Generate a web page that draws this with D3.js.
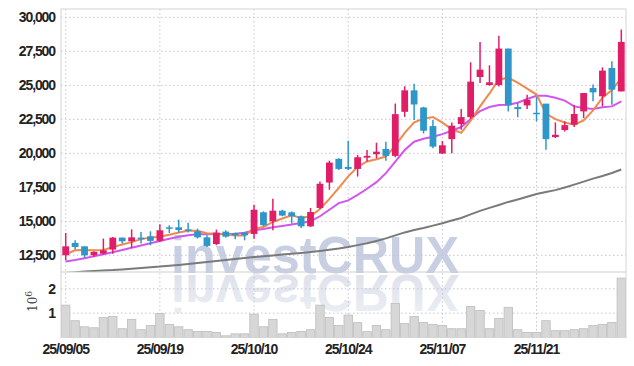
<!DOCTYPE html>
<html>
<head>
<meta charset="utf-8">
<script src="https://cdn.jsdelivr.net/npm/d3@7"></script>
<style>
    html, body { margin: 0; padding: 0; background: #fff; }
    svg { display: block; font-family: "Liberation Sans", Arial, sans-serif; }
</style>
</head>
<body>
<div id="chart"></div>
<script>
// trading days (yy/mm/dd)
const dates = [
    "25/09/05", "25/09/08", "25/09/09", "25/09/10", "25/09/11", "25/09/12", "25/09/15", "25/09/16", "25/09/17", "25/09/18",
    "25/09/19", "25/09/22", "25/09/23", "25/09/24", "25/09/25", "25/09/26", "25/09/29", "25/09/30", "25/10/01", "25/10/02",
    "25/10/10", "25/10/13", "25/10/14", "25/10/15", "25/10/16", "25/10/17", "25/10/20", "25/10/21", "25/10/22", "25/10/23",
    "25/10/24", "25/10/27", "25/10/28", "25/10/29", "25/10/30", "25/10/31", "25/11/03", "25/11/04", "25/11/05", "25/11/06",
    "25/11/07", "25/11/10", "25/11/11", "25/11/12", "25/11/13", "25/11/14", "25/11/17", "25/11/18", "25/11/19", "25/11/20",
    "25/11/21", "25/11/24", "25/11/25", "25/11/26", "25/11/27", "25/11/28", "25/12/01", "25/12/02", "25/12/03", "25/12/04"
];

const openPrice = [
    12500, 13410, 13160, 12500, 12620, 12920, 13800, 13530, 13800, 13900,
    13560, 14560, 14560, 14410, 14270, 13820, 13330, 14240, 14140, 14170,
    14070, 15660, 15000, 15780, 15660, 15370, 14630, 15980, 17850, 19590,
    19000, 18850, 19680, 19930, 20320, 19810, 23050, 24630, 23370, 22000,
    19980, 21040, 22150, 22660, 25610, 25020, 25020, 27700, 23400, 23520,
    22980, 23650, 21190, 21710, 22100, 23080, 24800, 24190, 26270, 24550
];
const highPrice = [
    14140, 13600, 13160, 12790, 13730, 13850, 13800, 14410, 14220, 14270,
    14780, 14710, 15120, 14900, 14460, 13970, 14390, 14340, 14170, 14220,
    16220, 15730, 16660, 15850, 15730, 15420, 15980, 17930, 19460, 19630,
    20930, 19880, 20240, 20780, 20850, 23660, 24930, 25120, 23420, 22440,
    20900, 22270, 23250, 26690, 28190, 26470, 28650, 27700, 23700, 24310,
    24140, 23650, 22270, 22350, 23550, 24430, 25050, 26320, 26760, 29100
];
const lowPrice = [
    12130, 12920, 12330, 12380, 12550, 12620, 13360, 13040, 13360, 13240,
    13480, 14140, 14170, 14170, 13730, 13110, 13240, 13800, 13680, 13600,
    13710, 14630, 14340, 15370, 14830, 14510, 14590, 15900, 17320, 18780,
    18780, 18290, 19390, 19630, 19460, 19710, 22680, 22440, 21460, 20370,
    19950, 20010, 21730, 22520, 25170, 24970, 24920, 23080, 22660, 23250,
    22350, 20260, 21120, 21610, 21930, 22590, 23820, 23450, 23570, 24550
];
const closePrice = [
    13160, 13110, 12500, 12750, 12870, 13800, 13530, 13820, 13680, 13560,
    14340, 14490, 14360, 14310, 13820, 13190, 14170, 13870, 13970, 13970,
    15850, 14710, 15780, 15420, 15370, 14630, 15680, 17760, 19320, 18850,
    18850, 19710, 19810, 20120, 19810, 22880, 24630, 23590, 21660, 20490,
    20590, 22030, 22660, 25270, 26150, 25220, 27700, 23520, 23250, 23940,
    22930, 21040, 21360, 22070, 22890, 24430, 24480, 26080, 24680, 28190
];
const volume = [
    1330000, 690000, 440000, 400000, 820000, 860000, 360000, 740000, 320000, 490000,
    990000, 530000, 440000, 320000, 250000, 250000, 210000, 70000, 150000, 150000,
    960000, 440000, 740000, 150000, 210000, 250000, 320000, 1330000, 820000, 490000,
    920000, 610000, 240000, 490000, 320000, 1400000, 570000, 860000, 620000, 540000,
    490000, 360000, 360000, 1280000, 1110000, 360000, 780000, 1240000, 320000, 210000,
    210000, 690000, 280000, 280000, 320000, 360000, 490000, 540000, 620000, 2440000
];

// moving averages as drawn (5 / 20 / 60 day)
const ma5 = [
    12580, 12870, 12890, 12870, 12890, 13100, 13300, 13470, 13690, 13800,
    13860, 14010, 14180, 14300, 14300, 14120, 14080, 14030, 13960, 13950,
    14450, 14580, 14950, 15210, 15440, 15250, 15370, 15900, 16650, 17450,
    18300, 19000, 19400, 19560, 19760, 20560, 21500, 22280, 22540, 22670,
    22250, 21760, 21510, 22400, 23450, 24400, 25430, 25550, 25190, 24760,
    24320, 22920, 22510, 22270, 22100, 22410, 23150, 24090, 24650, 25550
];
const ma20 = [
    12040, 12150, 12290, 12430, 12570, 12720, 12890, 13050, 13220, 13380,
    13550, 13710, 13860, 13970, 14040, 14050, 14070, 14070, 14090, 14160,
    14340, 14440, 14560, 14660, 14760, 14880, 15000, 15370, 15850, 16340,
    16540, 16950, 17390, 17880, 18540, 19390, 20240, 20850, 21070, 21220,
    21410, 21660, 21930, 22520, 23110, 23400, 23550, 23570, 23720, 23990,
    24230, 24230, 24090, 23870, 23450, 23330, 23250, 23380, 23450, 23820
];
const ma60 = [
    11200, 11250, 11316, 11353, 11382, 11412, 11463, 11515, 11573, 11625,
    11669, 11735, 11794, 11867, 11941, 12014, 12088, 12161, 12235, 12308,
    12367, 12433, 12492, 12558, 12617, 12676, 12749, 12823, 12911, 13006,
    13117, 13249, 13389, 13558, 13742, 13962, 14183, 14366, 14513, 14683,
    14859, 15064, 15248, 15506, 15763, 15984, 16204, 16425, 16608, 16807,
    17013, 17160, 17292, 17490, 17696, 17917, 18137, 18336, 18556, 18813
];

const priceTicks = [12500, 15000, 17500, 20000, 22500, 25000, 27500, 30000];
const volumeTicks = [1000000, 2000000];
const dateLabels = ["25/09/05", "25/09/19", "25/10/10", "25/10/24", "25/11/07", "25/11/21"];

const width = 634, height = 366;
const plot = { left: 61, right: 626, top: 9, split: 272, bottom: 337.5 };

const svg = d3.select("#chart")
    .append("svg")
    .attr("width", width)
    .attr("height", height);

const defs = svg.append("defs");
defs.append("clipPath").attr("id", "price-clip")
    .append("rect")
    .attr("x", plot.left).attr("y", plot.top)
    .attr("width", plot.right - plot.left).attr("height", plot.split - plot.top);

const reflGrad = defs.append("linearGradient")
    .attr("id", "refl-grad")
    .attr("gradientUnits", "userSpaceOnUse")
    .attr("x1", 0).attr("x2", 0).attr("y1", 272).attr("y2", 232);
reflGrad.append("stop").attr("offset", 0).attr("stop-color", "#dfe2ec");
reflGrad.append("stop").attr("offset", 1).attr("stop-color", "#eceef4");

// scales
const x = d3.scaleBand()
    .domain(dates)
    .range([plot.left, plot.right]);
const xc = d => x(d) + x.bandwidth() / 2;

const yPrice = d3.scaleLinear()
    .domain([11272, 30610])
    .range([plot.split, plot.top]);

const yVol = d3.scaleLinear()
    .domain([0, 2690000])
    .range([plot.bottom, plot.split]);

const gridColor = "#c4c4d6";

// watermark + reflection
const wm = svg.append("g")
    .style("font-size", "52px")
    .style("font-weight", "bold");
wm.append("text")
    .attr("x", 171).attr("y", 272.5)
    .attr("textLength", 288).attr("lengthAdjust", "spacingAndGlyphs")
    .style("fill", "#c8cfe2")
    .text("investCRUX");
wm.append("text")
    .attr("transform", "translate(0, 547) scale(1, -1)")
    .attr("x", 171).attr("y", 272.5)
    .attr("textLength", 288).attr("lengthAdjust", "spacingAndGlyphs")
    .style("fill", "url(#refl-grad)")
    .text("investCRUX");

// horizontal grid - price
svg.append("g")
    .selectAll("line")
    .data(priceTicks)
    .enter()
    .append("line")
    .attr("x1", plot.left).attr("x2", plot.right)
    .attr("y1", d => yPrice(d)).attr("y2", d => yPrice(d))
    .attr("stroke", gridColor)
    .attr("stroke-dasharray", "1.5,2.5");

// horizontal grid - volume
svg.append("g")
    .selectAll("line")
    .data(volumeTicks)
    .enter()
    .append("line")
    .attr("x1", plot.left).attr("x2", plot.right)
    .attr("y1", d => yVol(d)).attr("y2", d => yVol(d))
    .attr("stroke", gridColor)
    .attr("stroke-dasharray", "1.5,2.5");

// vertical grid at labelled dates
svg.append("g")
    .selectAll("line")
    .data(dateLabels)
    .enter()
    .append("line")
    .attr("x1", d => xc(d)).attr("x2", d => xc(d))
    .attr("y1", plot.top).attr("y2", plot.bottom)
    .attr("stroke", gridColor)
    .attr("stroke-dasharray", "1.5,2.5");

// volume bars
svg.append("g")
    .selectAll("rect")
    .data(dates)
    .enter()
    .append("rect")
    .attr("x", d => x(d) + 0.5)
    .attr("width", x.bandwidth() - 1)
    .attr("y", (d, i) => yVol(volume[i]))
    .attr("height", (d, i) => plot.bottom - yVol(volume[i]))
    .attr("fill", "#d7d7d7")
    .attr("stroke", "#bdbdbd")
    .attr("stroke-width", 0.8);

// moving average lines
const priceG = svg.append("g").attr("clip-path", "url(#price-clip)");
const maLine = arr => d3.line()
    .x((d, i) => xc(dates[i]))
    .y(d => yPrice(d))(arr);

priceG.append("path").attr("d", maLine(ma60))
    .attr("fill", "none").attr("stroke", "#7a7a7a").attr("stroke-width", 2);
priceG.append("path").attr("d", maLine(ma20))
    .attr("fill", "none").attr("stroke", "#d056ee").attr("stroke-width", 2);
priceG.append("path").attr("d", maLine(ma5))
    .attr("fill", "none").attr("stroke", "#ee8a4e").attr("stroke-width", 2);

// candles
const upColor = "#e01e68", downColor = "#2f96ca";
const candles = priceG.selectAll(".candle")
    .data(dates)
    .enter()
    .append("g")
    .attr("class", "candle");

candles.append("line")
    .attr("x1", d => xc(d)).attr("x2", d => xc(d))
    .attr("y1", (d, i) => yPrice(highPrice[i]))
    .attr("y2", (d, i) => yPrice(lowPrice[i]))
    .attr("stroke", (d, i) => closePrice[i] >= openPrice[i] ? upColor : downColor)
    .attr("stroke-width", 1.5);

const bodyW = x.bandwidth() * 0.72;
candles.append("rect")
    .attr("x", d => xc(d) - bodyW / 2)
    .attr("width", bodyW)
    .attr("y", (d, i) => yPrice(Math.max(openPrice[i], closePrice[i])))
    .attr("height", (d, i) => Math.max(1.5, Math.abs(yPrice(openPrice[i]) - yPrice(closePrice[i]))))
    .attr("fill", (d, i) => closePrice[i] >= openPrice[i] ? upColor : downColor);

// frame
svg.append("rect")
    .attr("x", plot.left).attr("y", plot.top)
    .attr("width", plot.right - plot.left).attr("height", plot.bottom - plot.top)
    .attr("fill", "none").attr("stroke", "#d4d4d4");
svg.append("line")
    .attr("x1", plot.left).attr("x2", plot.right)
    .attr("y1", plot.split).attr("y2", plot.split)
    .attr("stroke", "#cfcfcf");

// y labels - price
svg.append("g")
    .selectAll("text")
    .data(priceTicks)
    .enter()
    .append("text")
    .attr("x", 55)
    .attr("y", d => yPrice(d))
    .attr("dy", "0.36em")
    .attr("text-anchor", "end")
    .style("font-size", "14px")
    .style("font-weight", "bold")
    .style("letter-spacing", "-1.1px")
    .style("fill", "#222")
    .text(d3.format(","));

// y labels - volume
svg.append("g")
    .selectAll("text")
    .data(volumeTicks)
    .enter()
    .append("text")
    .attr("x", 56)
    .attr("y", d => yVol(d))
    .attr("dy", "0.36em")
    .attr("text-anchor", "end")
    .style("font-size", "14px")
    .style("font-weight", "bold")
    .style("fill", "#222")
    .text(d => d / 1e6);

const unit = svg.append("text")
    .attr("transform", "translate(37, 312) rotate(-90)")
    .style("font-family", "'DejaVu Serif', serif")
    .style("font-size", "12px")
    .style("fill", "#444");
unit.append("tspan").text("10");
unit.append("tspan").attr("dy", -5).style("font-size", "9px").text("6");

// x labels
svg.append("g")
    .selectAll("text")
    .data(dateLabels)
    .enter()
    .append("text")
    .attr("x", d => xc(d))
    .attr("y", 354)
    .attr("text-anchor", "middle")
    .style("font-size", "14px")
    .style("font-weight", "bold")
    .style("letter-spacing", "-1px")
    .style("fill", "#222")
    .text(d => d);
</script>
</body>
</html>
